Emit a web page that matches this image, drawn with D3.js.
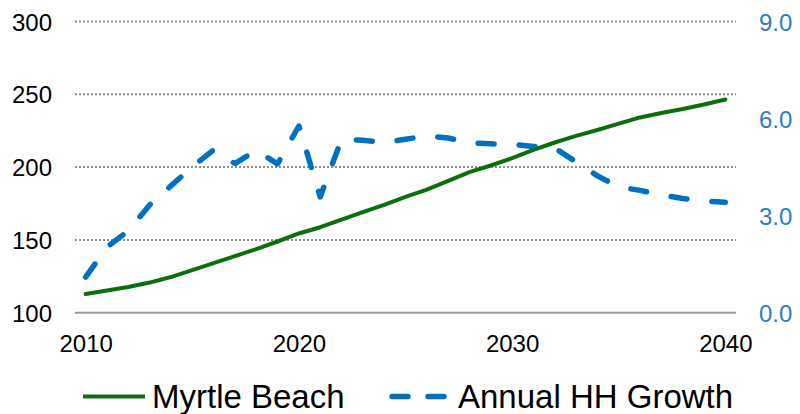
<!DOCTYPE html>
<html>
<head>
<meta charset="utf-8">
<script src="https://cdn.jsdelivr.net/npm/d3@7/dist/d3.min.js"></script>
<style>
  html, body { margin: 0; padding: 0; background: #ffffff; }
  svg { display: block; font-family: "Liberation Sans", Arial, sans-serif; }
</style>
</head>
<body>
<svg id="chart" width="800" height="414"></svg>
<script>
// Households (thousands) and annual household growth (%), 2010-2040
const years = d3.range(2010, 2041);
const households = [112.8, 115.2, 117.7, 120.7, 124.5, 129.3, 134.1, 138.9, 143.7, 148.9,
  154.4, 158.7, 163.9, 169.1, 174.0, 179.5, 184.6, 190.5, 196.6, 201.1,
  206.1, 211.8, 216.9, 221.4, 225.5, 229.9, 234.1, 237.2, 239.9, 243.0, 246.4];
const growth = [1.10, 2.03, 2.53, 3.33, 3.92, 4.51, 5.03, 4.61, 5.02, 4.60,
  5.77, 3.58, 5.36, 5.33, 5.26, 5.36, 5.46, 5.40, 5.25, 5.22,
  5.20, 5.14, 5.09, 4.66, 4.23, 3.89, 3.78, 3.64, 3.53, 3.45, 3.41];
const leftTicks = [100, 150, 200, 250, 300];
const rightTicks = [0, 3, 6, 9];
const xTickLabels = [2010, 2020, 2030, 2040];
const seriesNames = ["Myrtle Beach", "Annual HH Growth"];

const GREEN = "#0b700b";
const BLUE = "#0070c0";
const GRID = "#8f8f8f";

const svg = d3.select("#chart");
const plot = { left: 75, right: 736, top: 21.5, bottom: 312.7 };

const x = d3.scalePoint().domain(years).range([plot.left, plot.right]).padding(0.5);
const yL = d3.scaleLinear().domain([100, 300]).range([plot.bottom, plot.top]);
const yR = d3.scaleLinear().domain([0, 9]).range([plot.bottom, plot.top]);

// Dotted gridlines
svg.append("g").selectAll("line")
  .data(leftTicks.filter(t => t > 100))
  .join("line")
  .attr("x1", plot.left).attr("x2", plot.right)
  .attr("y1", d => yL(d)).attr("y2", d => yL(d))
  .attr("stroke", GRID).attr("stroke-width", 2)
  .attr("stroke-dasharray", "2,2");

// Baseline
svg.append("line")
  .attr("x1", plot.left).attr("x2", plot.right)
  .attr("y1", yL(100)).attr("y2", yL(100))
  .attr("stroke", "#999999").attr("stroke-width", 2);

// Left axis labels
const leftAxis = d3.axisLeft(yL).tickValues(leftTicks).tickSize(0).tickPadding(0);
const gL = svg.append("g").attr("transform", "translate(52,0)").call(leftAxis);
gL.select(".domain").remove();
gL.selectAll("text").attr("font-size", 24).attr("fill", "#000")
  .attr("font-family", "Liberation Sans, Arial, sans-serif").attr("dy", "0.36em");

// Right axis labels
const rightAxis = d3.axisRight(yR).tickValues(rightTicks).tickSize(0).tickPadding(0)
  .tickFormat(d3.format(".1f"));
const gR = svg.append("g").attr("transform", "translate(759,0)").call(rightAxis);
gR.select(".domain").remove();
gR.selectAll("text").attr("font-size", 24).attr("fill", "#2e7cc4")
  .attr("font-family", "Liberation Sans, Arial, sans-serif").attr("dy", "0.36em");

// Bottom axis labels
const bottomAxis = d3.axisBottom(x).tickValues(xTickLabels).tickSize(0).tickPadding(0);
const gB = svg.append("g").attr("transform", "translate(0,335)").call(bottomAxis);
gB.select(".domain").remove();
gB.selectAll("text").attr("font-size", 24).attr("fill", "#000")
  .attr("font-family", "Liberation Sans, Arial, sans-serif").attr("dy", "0.71em");

// Growth line (dashed, right axis)
svg.append("path")
  .datum(years.map((yr, i) => [yr, growth[i]]))
  .attr("fill", "none")
  .attr("stroke", BLUE).attr("stroke-width", 5.5)
  .attr("stroke-linecap", "round").attr("stroke-linejoin", "round")
  .attr("stroke-dasharray", "16,25")
  .attr("d", d3.line().x(d => x(d[0])).y(d => yR(d[1])));

// Households line (solid, left axis)
svg.append("path")
  .datum(years.map((yr, i) => [yr, households[i]]))
  .attr("fill", "none")
  .attr("stroke", GREEN).attr("stroke-width", 4)
  .attr("stroke-linecap", "round").attr("stroke-linejoin", "round")
  .attr("d", d3.line().x(d => x(d[0])).y(d => yL(d[1])));

// Legend
const legY = 396.5;
const leg = svg.append("g");
leg.append("line").attr("x1", 83).attr("x2", 145).attr("y1", legY).attr("y2", legY)
  .attr("stroke", GREEN).attr("stroke-width", 4);
leg.append("text").attr("x", 152).attr("y", legY).attr("dy", "0.36em")
  .attr("font-size", 33).attr("fill", "#000").text(seriesNames[0]);
leg.append("line").attr("x1", 392).attr("x2", 448).attr("y1", legY).attr("y2", legY)
  .attr("stroke", BLUE).attr("stroke-width", 5.5).attr("stroke-linecap", "round")
  .attr("stroke-dasharray", "16,20");
leg.append("text").attr("x", 458).attr("y", legY).attr("dy", "0.36em")
  .attr("font-size", 33).attr("fill", "#000").text(seriesNames[1]);
</script>
</body>
</html>
